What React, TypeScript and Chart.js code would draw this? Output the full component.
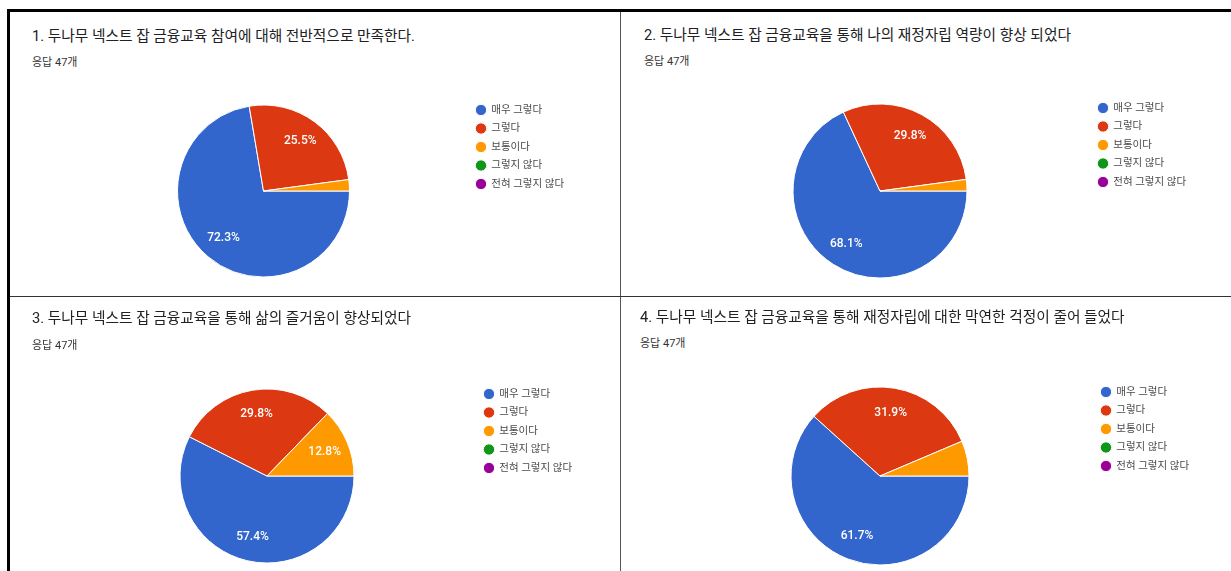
import React, { useEffect, useRef } from "react";
import { Chart, registerables } from "chart.js";

Chart.register(...registerables);

// ---- data ----
const categories = ["매우 그렇다", "그렇다", "보통이다", "그렇지 않다", "전혀 그렇지 않다"];
const titles = [
  "1. 두나무 넥스트 잡 금융교육 참여에 대해 전반적으로 만족한다.",
  "2. 두나무 넥스트 잡 금융교육을 통해 나의 재정자립 역량이 향상 되었다",
  "3. 두나무 넥스트 잡 금융교육을 통해 삶의 즐거움이 향상되었다",
  "4. 두나무 넥스트 잡 금융교육을 통해 재정자립에 대한 막연한 걱정이 줄어 들었다",
];
const responseLabel = "응답 47개";
const q1Counts = [34, 12, 1, 0, 0];
const q2Counts = [32, 14, 1, 0, 0];
const q3Counts = [27, 14, 6, 0, 0];
const q4Counts = [29, 15, 3, 0, 0];

// ---- styles ----
const sliceColors = ["#3366cc", "#dc3912", "#ff9900", "#109618", "#990099"];
const FONT = "Roboto, 'Noto Sans CJK KR', sans-serif";
const LEGEND_FONT = 10.5;
const LEGEND_PAD = 8;
const LEGEND_BOX = 10;

type Layout = {
  titleX: number; titleY: number; subY: number;
  canvasLeft: number; canvasTop: number; canvasW: number; canvasH: number;
  cx: number; cy: number; r: number; dotX: number; firstY: number;
};

const layouts: Layout[] = [
  { titleX: 32, titleY: 36, subY: 63, canvasLeft: 11, canvasTop: 75, canvasW: 609, canvasH: 240, cx: 263.5, cy: 191, r: 86, dotX: 481, firstY: 110 },
  { titleX: 644, titleY: 35, subY: 62, canvasLeft: 622, canvasTop: 75, canvasW: 609, canvasH: 240, cx: 880, cy: 191, r: 87, dotX: 1103, firstY: 108 },
  { titleX: 32, titleY: 318, subY: 346, canvasLeft: 11, canvasTop: 360, canvasW: 609, canvasH: 240, cx: 267, cy: 476, r: 87, dotX: 489, firstY: 394 },
  { titleX: 640, titleY: 317, subY: 344, canvasLeft: 622, canvasTop: 360, canvasW: 609, canvasH: 240, cx: 880, cy: 476, r: 89, dotX: 1106, firstY: 392 },
];

const sliceLabelPlugin = {
  id: "sliceLabels",
  afterDatasetsDraw(chart: any) {
    const ctx = chart.ctx;
    const data: number[] = chart.data.datasets[0].data;
    const total = data.reduce((a: number, b: number) => a + b, 0);
    const meta = chart.getDatasetMeta(0);
    ctx.save();
    ctx.fillStyle = "#ffffff";
    ctx.font = `500 12px ${FONT}`;
    ctx.textAlign = "center";
    ctx.textBaseline = "middle";
    meta.data.forEach((arc: any, i: number) => {
      const frac = data[i] / total;
      if (frac < 0.1) return;
      const p = arc.getProps(["x", "y", "startAngle", "endAngle", "outerRadius"], true);
      const mid = (p.startAngle + p.endAngle) / 2;
      const d = p.outerRadius * 0.72;
      ctx.fillText((frac * 100).toFixed(1) + "%", p.x + Math.cos(mid) * d, p.y + Math.sin(mid) * d);
    });
    ctx.restore();
  },
};

function PiePanel({ title, counts, layout }: { title: string; counts: number[]; layout: Layout }) {
  const ref = useRef<HTMLCanvasElement>(null);
  useEffect(() => {
    if (!ref.current) return;
    const L = layout;
    const m = document.createElement("canvas").getContext("2d")!;
    m.font = `normal ${LEGEND_FONT}px ${FONT}`;
    const maxText = Math.max(...categories.map((c) => m.measureText(c).width));
    const legendWidth = LEGEND_PAD + LEGEND_BOX + LEGEND_FONT / 2 + maxText + 10;
    const legendTop = L.firstY - LEGEND_PAD - LEGEND_FONT / 2;
    const padTop = legendTop - L.canvasTop;
    const chartBottom = 2 * L.cy - legendTop;
    const padBottom = L.canvasTop + L.canvasH - chartBottom;
    const legendLeft = L.dotX - LEGEND_PAD - LEGEND_BOX / 2 - L.canvasLeft;
    const padLeft = 2 * (L.cx - L.canvasLeft) - legendLeft;
    const padRight = Math.max(0, L.canvasW - legendLeft - legendWidth);
    const chart = new Chart(ref.current, {
      type: "pie",
      data: {
        labels: categories,
        datasets: [
          {
            data: counts,
            backgroundColor: sliceColors,
            borderColor: "#ffffff",
            borderWidth: 1,
            radius: L.r,
          } as any,
        ],
      },
      options: {
        responsive: false,
        animation: false,
        rotation: 90,
        layout: { padding: { top: padTop, bottom: padBottom, left: padLeft, right: padRight } },
        plugins: {
          tooltip: { enabled: false },
          legend: {
            position: "right",
            align: "start",
            labels: {
              usePointStyle: true,
              pointStyle: "circle",
              boxWidth: LEGEND_BOX,
              boxHeight: 8,
              padding: LEGEND_PAD,
              color: "#4a4a4a",
              font: { family: FONT, size: LEGEND_FONT },
            },
          },
        },
      },
      plugins: [sliceLabelPlugin],
    });
    return () => chart.destroy();
  }, [counts, layout]);

  return (
    <>
      <div
        style={{
          position: "absolute", left: layout.titleX, top: layout.titleY - 9, height: 18, lineHeight: "18px",
          fontFamily: FONT, fontSize: 14.7, color: "#202124", whiteSpace: "nowrap",
        }}
      >
        {title}
      </div>
      <div
        style={{
          position: "absolute", left: layout.titleX, top: layout.subY - 7, height: 14, lineHeight: "14px",
          fontFamily: FONT, fontSize: 11, color: "#333333", whiteSpace: "nowrap",
        }}
      >
        {responseLabel}
      </div>
      <canvas
        ref={ref}
        width={layout.canvasW}
        height={layout.canvasH}
        style={{ position: "absolute", left: layout.canvasLeft, top: layout.canvasTop, width: layout.canvasW, height: layout.canvasH }}
      />
    </>
  );
}

export default function App() {
  useEffect(() => {
    document.body.style.margin = "0";
  }, []);
  const allCounts = [q1Counts, q2Counts, q3Counts, q4Counts];
  return (
    <div style={{ position: "relative", width: 1231, height: 571, overflow: "hidden", background: "#ffffff" }}>
      {titles.map((t, i) => (
        <PiePanel key={i} title={t} counts={allCounts[i]} layout={layouts[i]} />
      ))}
      {/* frame lines */}
      <div style={{ position: "absolute", left: 7, top: 9, width: 1224, height: 3, background: "#000" }} />
      <div style={{ position: "absolute", left: 7, top: 9, width: 3, height: 562, background: "#000" }} />
      <div style={{ position: "absolute", left: 620, top: 12, width: 1, height: 559, background: "#555" }} />
      <div style={{ position: "absolute", left: 10, top: 296, width: 1221, height: 1, background: "#333" }} />
    </div>
  );
}
